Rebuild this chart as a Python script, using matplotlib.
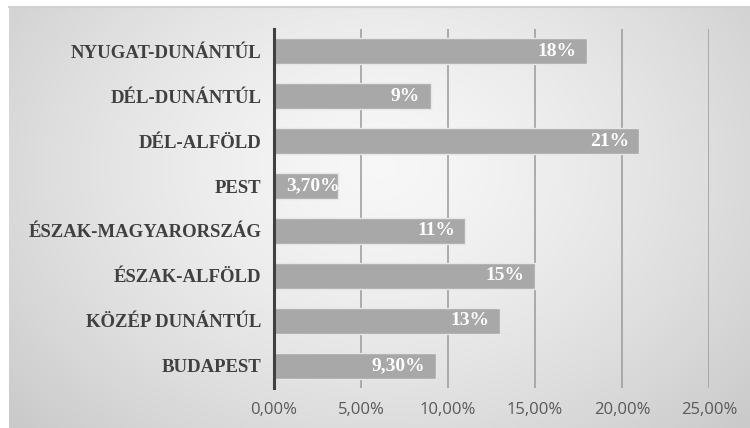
import numpy as np
import matplotlib
matplotlib.use("Agg")
import matplotlib.pyplot as plt
from matplotlib.ticker import FuncFormatter

categories = ["BUDAPEST", "KÖZÉP DUNÁNTÚL", "ÉSZAK-ALFÖLD", "ÉSZAK-MAGYARORSZÁG",
              "PEST", "DÉL-ALFÖLD", "DÉL-DUNÁNTÚL", "NYUGAT-DUNÁNTÚL"]
values = [9.3, 13, 15, 11, 3.7, 21, 9, 18]
value_labels = ["9,30%", "13%", "15%", "11%", "3,70%", "21%", "9%", "18%"]
xticks = [0, 5, 10, 15, 20, 25]

W, H = 750, 428
fig = plt.figure(figsize=(W / 100, H / 100), dpi=100)
fig.patch.set_facecolor("white")

# gradient background panel
bg = fig.add_axes([9 / W, 0, 1 - 9 / W, 1 - 7 / H])
bg.set_axis_off()
ny, nx = 200, 400
yy, xx = np.mgrid[0:ny, 0:nx]
cx, cy = 0.5 * nx, 0.38 * ny
r = np.sqrt(((xx - cx) / nx) ** 2 * 1.0 + ((yy - cy) / ny) ** 2 * 0.55)
r = r / r.max()
lev = 0.97 - 0.18 * r ** 1.4
img = np.dstack([lev, lev, lev])
bg.imshow(img, aspect="auto", extent=[0, 1, 0, 1], origin="upper")
bg.set_xlim(0, 1)
bg.set_ylim(0, 1)
bg.plot([0, 1], [1, 1], color="#d0d0d0", lw=1.5, transform=bg.transAxes, clip_on=False)

ax = fig.add_axes([274 / W, 1 - 388 / H, (709 - 274) / W, (388 - 29) / H])
ax.patch.set_alpha(0)
y = np.arange(len(categories))
bars = ax.barh(y, values, height=0.58, color="#a8a8a8", edgecolor="#e6e6e6", linewidth=1.0, zorder=3)
ax.set_xlim(0, 25)
ax.set_ylim(-0.5, len(categories) - 0.5)
ax.set_xticks(xticks)
ax.xaxis.set_major_formatter(FuncFormatter(lambda v, p: f"{v:.2f}".replace(".", ",") + "%"))
ax.set_yticks(y)
ax.set_yticklabels(categories, fontfamily="Liberation Serif", fontweight="bold",
                   fontsize=13.5, color="#404040")
for lab in ax.get_xticklabels():
    lab.set_fontfamily("Open Sans")
    lab.set_fontsize(12)
    lab.set_color("#595959")
ax.tick_params(axis="both", length=0)
ax.tick_params(axis="x", pad=10)
ax.tick_params(axis="y", pad=9)
ax.grid(axis="x", color="#a0a0a0", lw=1.2, zorder=1)
for s in ["top", "right", "bottom"]:
    ax.spines[s].set_visible(False)
ax.spines["left"].set_color("#404040")
ax.spines["left"].set_linewidth(2.2)
ax.spines["left"].set_zorder(5)

for b, lab in zip(bars, value_labels):
    w = b.get_width()
    if w < 6:
        x, ha = 0.7, "left"
    else:
        x, ha = w - 0.6, "right"
    t = ax.text(x, b.get_y() + b.get_height() / 2, lab,
                ha=ha, va="center", color="white", fontweight="bold",
                fontfamily="Liberation Serif", fontsize=14, zorder=4)
    t.set_clip_path(b)

fig.savefig("out.png", dpi=100)
